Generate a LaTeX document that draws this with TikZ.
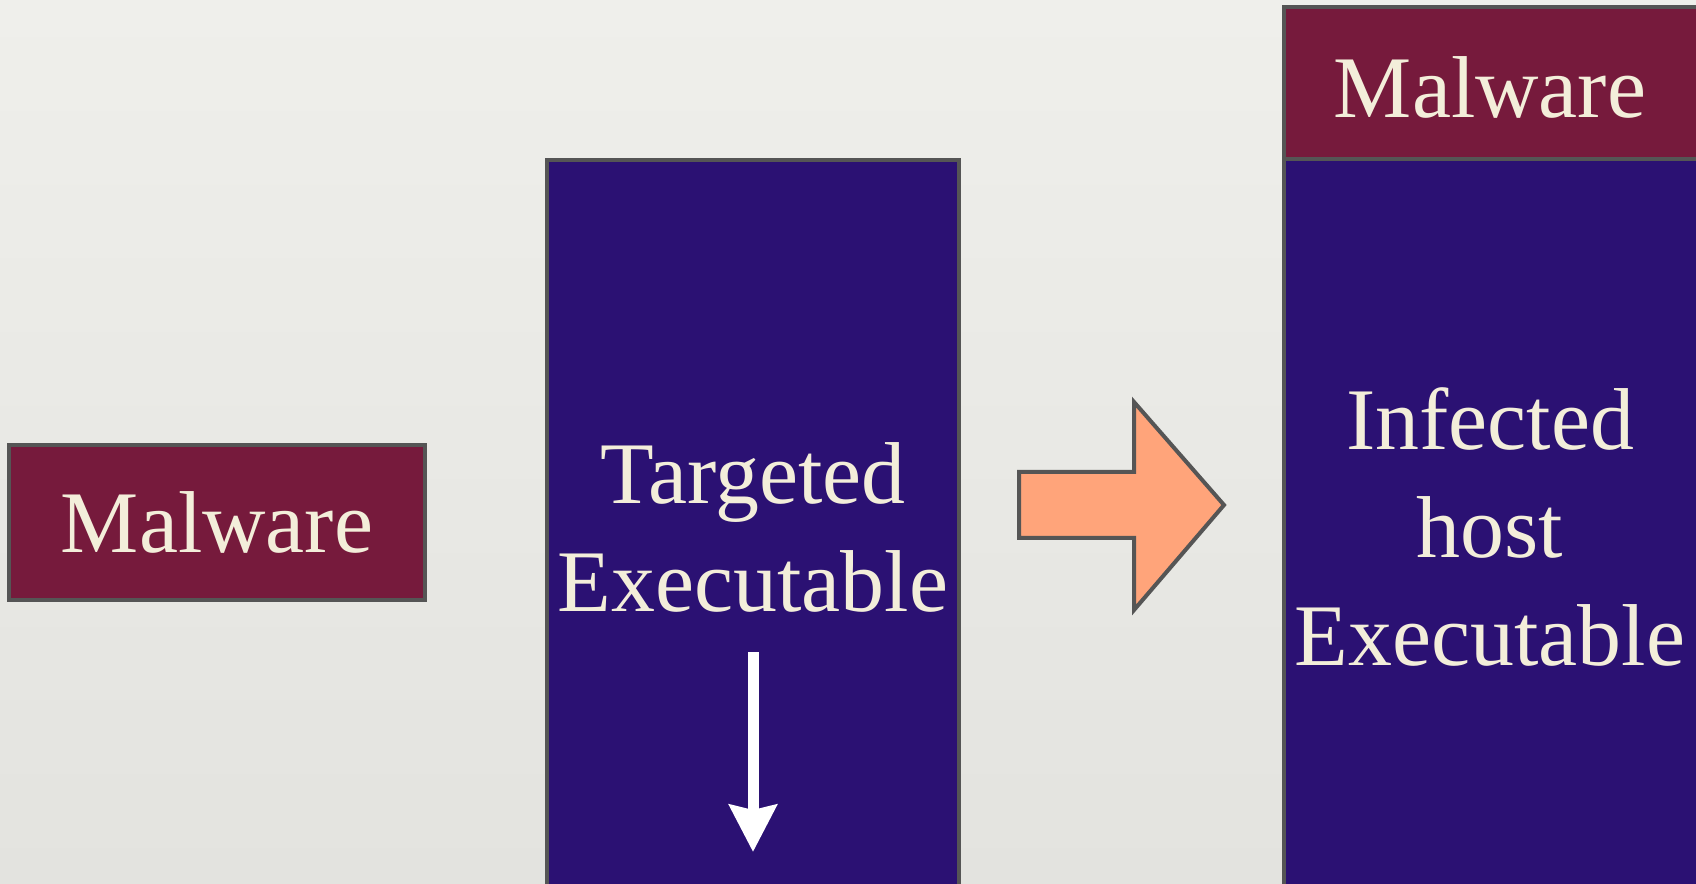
\documentclass[tikz,border=0pt]{standalone}
\usepackage{fontspec}
\setmainfont{Liberation Serif}
\usepackage{tikz}
\usetikzlibrary{arrows.meta,positioning}

\definecolor{wine}{HTML}{761A3C}
\definecolor{ink}{HTML}{2B1173}
\definecolor{rim}{HTML}{555555}
\definecolor{cream}{HTML}{F3EEDA}
\definecolor{salmon}{HTML}{FFA47A}
\definecolor{paperA}{HTML}{EFEFEB}
\definecolor{paperB}{HTML}{E3E3DF}

\begin{document}
\begin{tikzpicture}[
  x=0.02cm, y=-0.02cm,
  mal/.style={rectangle,draw=rim,line width=0.08cm,fill=wine,text=cream,inner sep=0pt,
    minimum width=8.32cm,font=\fontsize{50}{61.5}\selectfont},
  exe/.style={rectangle,draw=rim,line width=0.08cm,fill=ink,inner sep=0pt,minimum width=8.24cm},
  txt/.style={text=cream,align=center,font=\fontsize{50}{61.5}\selectfont},
  arrow/.style={-{Stealth[length=0.94cm,width=0.94cm,inset=0.1cm]},line width=0.22cm,white}
]
\useasboundingbox (0,0) rectangle (1696,884);
\clip (0,0) rectangle (1696,884);
\shade[top color=paperA,bottom color=paperB] (0,0) rectangle (1696,884);

\node[mal,minimum height=3.1cm] (mw1) at (217,522.5) {Malware};

\node[exe,minimum height=15.8cm] (tgt) at (753,555) {};
\node[txt] (tgtT) at (753,527) {Targeted\\Executable};
\coordinate (d0) at (753,652);
\coordinate (d1) at (753,852);
\draw[arrow] (d0) -- (d1);

\draw[rim,line width=0.08cm,fill=salmon,line join=miter]
  (1019,472) -- (1134,472) -- (1134,402) -- (1224,505) -- (1134,610) -- (1134,538) -- (1019,538) -- cycle;

\node[exe,minimum width=8.32cm,minimum height=15.82cm] (inf) at (1492,554.5) {};
\node[mal,minimum height=3.04cm] (mw2) at (1492,83) {};
\node[txt] (mw2T) at (1490,87) {Malware};
\node[txt] (infT) at (1490,527) {Infected\\host\\Executable};
\end{tikzpicture}
\end{document}
